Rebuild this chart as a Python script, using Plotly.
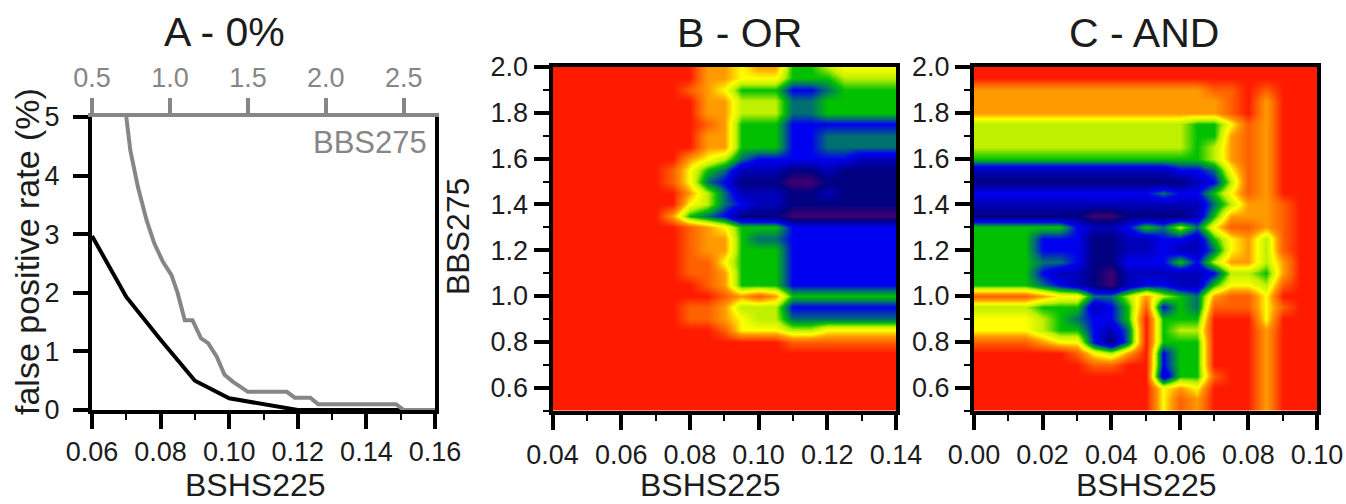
import plotly.graph_objects as go

W, H = 1346, 504
FONT = "Liberation Sans"
INK = "#1c1c1c"
GREY = "#868686"

# Panel A
bshs_x = [0.06, 0.07, 0.08, 0.09, 0.10, 0.11, 0.12, 0.15]
bshs_fpr = [2.97, 1.93, 1.2, 0.5, 0.2, 0.1, 0.0, 0.0]
bbs_x = [0.72, 0.746, 0.795, 0.85, 0.90, 0.955, 1.01, 1.05, 1.095, 1.145, 1.2, 1.245, 1.3, 1.35,
         1.405, 1.5, 1.75, 1.8, 1.9, 1.95, 2.45, 2.5, 2.7]
bbs_fpr = [5.0, 4.43, 3.8, 3.24, 2.84, 2.53, 2.3, 1.99, 1.53, 1.53, 1.22, 1.14, 0.91, 0.6,
           0.48, 0.31, 0.31, 0.21, 0.21, 0.1, 0.1, 0.0, 0.0]

# Panels B and C: row order is BBS275 = 2.00, 1.95, ... 0.50
grid_y = [2.0 - 0.05 * i for i in range(31)]
grid_x_b = [0.04 + 0.005 * i for i in range(21)]
grid_x_c = [0.00 + 0.005 * i for i in range(21)]

z_or = [
    [0,0,0,0,0,0,0,0,0,2,2,3,2,2,5,5,4,3,3,3,3],
    [0,0,0,0,0,0,0,0,0,2,2,3,3,3,5,5,5,4,4,4,4],
    [0,0,0,0,0,0,0,0,1,2,3,5,5,5,7,7,6,5,5,5,5],
    [0,0,0,0,0,0,0,0,0,2,2,4,4,4,6,6,5,5,5,5,5],
    [0,0,0,0,0,0,0,0,0,2,2,4,4,4,6,6,5,5,5,5,5],
    [0,0,0,0,0,0,0,0,0,1,2,5,5,5,7,7,7,7,7,7,7],
    [0,0,0,0,0,0,0,0,0,2,2,5,5,5,7,7,6,6,6,6,6],
    [0,0,0,0,0,0,0,0,0,2,2,5,5,5,7,7,6,6,6,6,6],
    [0,0,0,0,0,0,0,0,2,3,4,6,7,7,7,7,7,7,8,8,8],
    [0,0,0,0,0,0,0,1,3,5,6,8,8,8,9,9,8,9,9,9,9],
    [0,0,0,0,0,0,0,1,3,6,7,9,9,9,10,10,9,9,9,9,9],
    [0,0,0,0,0,0,0,0,2,4,6,8,8,8,9,9,8,9,9,9,9],
    [0,0,0,0,0,0,0,0,3,4,6,7,8,8,9,9,9,9,9,9,9],
    [0,0,0,0,0,0,0,2,5,6,7,9,9,9,10,10,10,10,10,10,10],
    [0,0,0,0,0,0,0,0,1,2,3,5,5,5,7,7,7,7,7,7,7],
    [0,0,0,0,0,0,0,0,1,2,2,5,6,6,7,7,7,7,7,7,7],
    [0,0,0,0,0,0,0,0,1,2,2,5,5,5,7,7,7,7,7,7,7],
    [0,0,0,0,0,0,0,0,1,1,3,5,5,5,7,7,7,7,7,7,7],
    [0,0,0,0,0,0,0,0,1,1,2,5,5,5,7,7,7,7,7,7,7],
    [0,0,0,0,0,0,0,0,0,1,2,5,5,5,7,7,7,7,7,7,7],
    [0,0,0,0,0,0,0,0,0,0,1,2,1,2,5,5,5,5,5,5,5],
    [0,0,0,0,0,0,0,0,1,1,2,4,4,4,7,7,7,7,7,7,7],
    [0,0,0,0,0,0,0,0,1,1,2,3,4,4,6,6,6,6,6,6,6],
    [0,0,0,0,0,0,0,0,0,0,1,3,3,3,4,4,3,3,3,3,3],
    [0,0,0,0,0,0,0,0,0,0,0,0,0,0,1,1,1,1,1,1,1],
    [0,0,0,0,0,0,0,0,0,0,0,0,0,0,0,0,0,0,0,0,0],
    [0,0,0,0,0,0,0,0,0,0,0,0,0,0,0,0,0,0,0,0,0],
    [0,0,0,0,0,0,0,0,0,0,0,0,0,0,0,0,0,0,0,0,0],
    [0,0,0,0,0,0,0,0,0,0,0,0,0,0,0,0,0,0,0,0,0],
    [0,0,0,0,0,0,0,0,0,0,0,0,0,0,0,0,0,0,0,0,0],
    [0,0,0,0,0,0,0,0,0,0,0,0,0,0,0,0,0,0,0,0,0],
]

z_and = [
    [0,0,0,0,0,0,0,0,0,0,0,0,0,0,0,0,0,0,0,0,0],
    [0,0,0,0,0,0,0,0,0,0,0,0,0,0,0,0,0,0,0,0,0],
    [2,2,2,2,2,2,2,2,2,2,2,2,2,2,1,1,0,1,0,0,0],
    [2,2,2,2,2,2,2,2,2,2,2,2,2,2,2,1,0,2,0,0,0],
    [2,2,2,2,2,2,2,2,2,2,2,2,2,2,2,1,0,2,0,0,0],
    [4,4,4,4,4,4,4,4,4,4,4,4,4,5,5,3,1,2,0,0,0],
    [4,4,4,4,4,4,4,4,4,4,4,4,4,5,5,2,1,2,0,0,0],
    [4,4,4,4,4,4,4,4,4,4,4,4,4,5,4,2,1,2,0,0,0],
    [5,5,5,5,5,5,5,5,5,5,5,5,5,5,4,2,1,2,0,0,0],
    [8,8,8,8,8,8,8,8,8,8,8,8,7,7,6,3,1,2,0,0,0],
    [9,9,9,9,9,9,9,9,9,9,9,9,9,8,7,4,1,2,0,0,0],
    [7,7,7,7,7,7,7,7,7,7,7,6,7,7,5,3,1,2,0,0,0],
    [8,8,8,8,8,8,8,8,8,8,8,8,8,8,6,4,2,2,1,0,0],
    [9,9,9,9,9,9,9,10,10,9,9,9,9,8,5,2,2,2,1,0,0],
    [5,5,5,5,5,5,7,8,8,7,5,6,4,6,3,1,1,2,1,0,0],
    [5,5,5,5,7,7,7,9,9,8,8,7,7,8,5,3,2,4,1,0,0],
    [5,5,5,5,7,7,7,9,9,8,8,7,8,8,6,3,2,4,1,0,0],
    [5,5,5,5,6,6,7,9,9,7,7,7,5,7,4,2,2,4,2,0,0],
    [5,5,5,5,7,8,8,9,10,8,8,8,8,8,7,4,4,5,2,0,0],
    [5,5,5,5,6,7,8,9,10,8,7,7,8,8,5,3,3,4,1,0,0],
    [1,1,1,1,2,3,3,6,6,4,2,4,5,6,2,1,1,3,0,0,0],
    [4,4,4,4,5,5,5,8,7,5,1,7,5,6,1,1,1,3,1,0,0],
    [3,3,3,3,4,5,6,7,7,5,0,5,5,5,0,0,0,3,0,0,0],
    [3,3,3,3,4,5,5,7,8,6,0,5,4,4,0,0,0,2,0,0,0],
    [1,1,1,1,2,3,3,7,9,6,0,5,5,5,0,0,0,2,0,0,0],
    [0,0,0,0,0,0,1,3,4,2,0,7,5,5,0,0,0,2,0,0,0],
    [0,0,0,0,0,0,0,1,1,0,0,7,5,5,0,0,0,2,0,0,0],
    [0,0,0,0,0,0,0,0,0,0,0,8,5,5,1,0,0,2,0,0,0],
    [0,0,0,0,0,0,0,0,0,0,0,3,2,3,0,0,0,2,0,0,0],
    [0,0,0,0,0,0,0,0,0,0,0,3,1,2,0,0,0,2,0,0,0],
    [0,0,0,0,0,0,0,0,0,0,0,3,1,2,0,0,0,2,0,0,0],
]

colors = ["#ff1a00", "#ff6000", "#ff9a00", "#ffff00", "#bff000", "#00c000",
          "#006f70", "#0000f0", "#0000b8", "#000080", "#40006f"]
colorscale = [[i / 10, c] for i, c in enumerate(colors)]

titles = ["A - 0%", "B - OR", "C - AND"]
ytick_map = [0.6, 0.8, 1.0, 1.2, 1.4, 1.6, 1.8, 2.0]


def fx(a, b):
    return [a / W, b / W]


def fy(top, bottom):
    return [1 - bottom / H, 1 - top / H]


fig = go.Figure()
fig.add_trace(go.Scatter(x=bshs_x, y=bshs_fpr, mode="lines", xaxis="x", yaxis="y",
                         line=dict(color="#000000", width=4), cliponaxis=False, showlegend=False))
fig.add_trace(go.Scatter(x=bbs_x, y=bbs_fpr, mode="lines", xaxis="x2", yaxis="y",
                         line=dict(color=GREY, width=4), cliponaxis=False, showlegend=False))
for z, gx, xa, ya in [(z_or, grid_x_b, "x3", "y3"), (z_and, grid_x_c, "x4", "y4")]:
    fig.add_trace(go.Heatmap(z=z, x=gx, y=grid_y, xaxis=xa, yaxis=ya, zmin=0, zmax=10,
                             colorscale=colorscale, zsmooth="best", showscale=False))

tick_font = dict(family=FONT, size=27, color=INK)
common = dict(showgrid=False, zeroline=False, showline=True, linecolor="#000000", linewidth=4,
              ticks="outside", ticklen=15, tickwidth=4, tickcolor="#000000", tickfont=tick_font,
              automargin=False)
title_font = dict(family=FONT, size=32, color=INK)
minor_x = dict(dtick=0.01, ticks="outside", ticklen=6, tickwidth=2, tickcolor="#000000")
minor_y = dict(dtick=0.1, ticks="outside", ticklen=6, tickwidth=2, tickcolor="#000000")

fig.update_layout(
    width=W, height=H, margin=dict(l=0, r=0, t=0, b=0, autoexpand=False), plot_bgcolor="white", paper_bgcolor="white",
    font=dict(family=FONT, color=INK),
    xaxis=dict(domain=fx(92, 435), range=[0.06, 0.16], anchor="y", tickvals=[0.06, 0.08, 0.10, 0.12, 0.14, 0.16],
               tickformat=".2f", minor=minor_x, layer="below traces", **common),
    xaxis2=dict(domain=fx(92, 435), range=[0.5, 2.7], anchor="y", overlaying="x", side="top",
                tickvals=[0.5, 1.0, 1.5, 2.0, 2.5], tickformat=".1f", showgrid=False, zeroline=False,
                showline=True, linecolor=GREY, linewidth=4, ticks="outside", ticklen=15, tickwidth=4,
                tickcolor=GREY, tickfont=dict(family=FONT, size=27, color=GREY), automargin=False),
    yaxis=dict(domain=fy(117, 410), range=[0, 5], anchor="x", tickvals=[0, 1, 2, 3, 4, 5], mirror=True,
               ticklabelstandoff=8, **common),
    xaxis3=dict(domain=fx(552.5, 896), range=[0.04, 0.14], anchor="y3", tickvals=[0.04, 0.06, 0.08, 0.10, 0.12, 0.14],
                tickformat=".2f", mirror=True, minor=minor_x, ticklabelstandoff=2, **common),
    yaxis3=dict(domain=fy(67, 410.5), range=[0.5, 2.0], anchor="x3", tickvals=ytick_map, tickformat=".1f", mirror=True,
                minor=minor_y, **common),
    xaxis4=dict(domain=fx(974, 1317), range=[0.0, 0.10], anchor="y4", tickvals=[0.0, 0.02, 0.04, 0.06, 0.08, 0.10],
                tickformat=".2f", mirror=True, minor=minor_x, ticklabelstandoff=2, **common),
    yaxis4=dict(domain=fy(67, 410.5), range=[0.5, 2.0], anchor="x4", tickvals=ytick_map, tickformat=".1f", mirror=True,
                minor=minor_y, **common),
)

for text, px, py in zip(titles, [224, 739, 1144], [32, 33, 33]):
    fig.add_annotation(text=text, xref="paper", yref="paper", x=px / W, y=1 - py / H, showarrow=False,
                       xanchor="center", yanchor="middle", font=dict(family=FONT, size=41, color=INK))
for px, py in [(255, 485), (710, 485), (1146, 485)]:
    fig.add_annotation(text="BSHS225", xref="paper", yref="paper", x=px / W, y=1 - py / H, showarrow=False,
                       xanchor="center", yanchor="middle", font=title_font)
fig.add_annotation(text="false positive rate (%)", xref="paper", yref="paper", x=27 / W, y=1 - 252 / H, showarrow=False,
                   textangle=-90, xanchor="center", yanchor="middle", font=dict(family=FONT, size=34, color=INK))
fig.add_annotation(text="BBS275", xref="paper", yref="paper", x=458 / W, y=1 - 237 / H, showarrow=False,
                   textangle=-90, xanchor="center", yanchor="middle", font=title_font)
fig.add_annotation(text="BBS275", xref="paper", yref="paper", x=429 / W, y=1 - 142 / H, showarrow=False,
                   xanchor="right", yanchor="middle", font=dict(family=FONT, size=31, color=GREY))

fig.write_html("out.html", config=dict(displayModeBar=False),
               post_script="document.body.style.margin='0';document.body.style.overflow='hidden';")
